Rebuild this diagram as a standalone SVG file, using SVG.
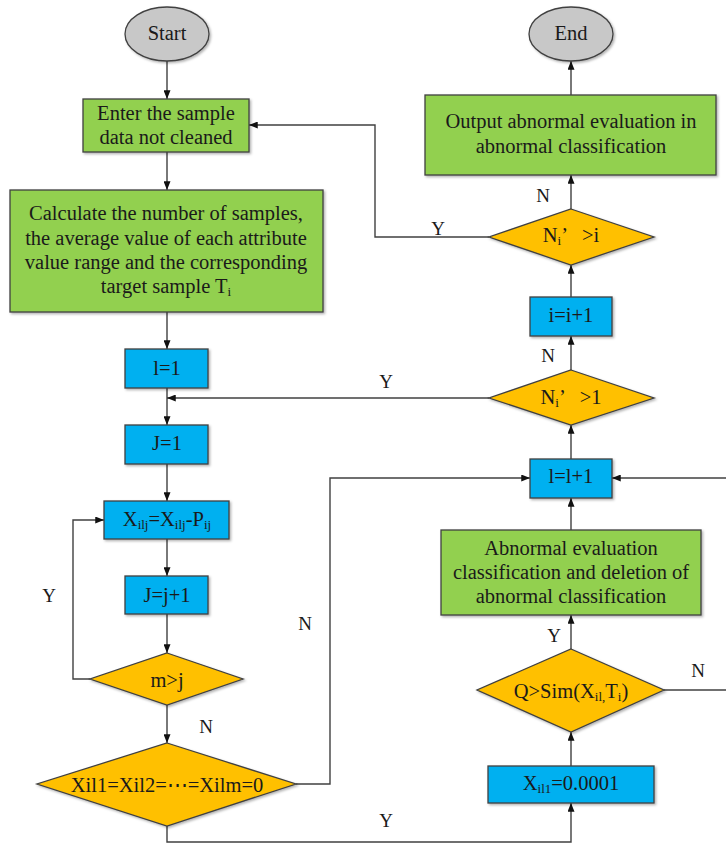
<svg xmlns="http://www.w3.org/2000/svg" width="726" height="845" viewBox="0 0 726 845">
<style>
text{font-family:"Liberation Serif","Times New Roman",serif;font-size:20.5px;fill:#1a1a1a;text-anchor:middle}
.lbl{font-size:19px}
.g{fill:#92D050;stroke:#404040;stroke-width:1.3}
.b{fill:#00B0F0;stroke:#404040;stroke-width:1.3}
.o{fill:#FFC000;stroke:#404040;stroke-width:1.3}
.e{fill:#C8C8C8;stroke:#404040;stroke-width:1.3}
.c{fill:none;stroke:#404040;stroke-width:1.4}
.a{marker-end:url(#ah)}
.s{font-size:13px}
</style>
<defs>
<marker id="ah" viewBox="0 0 10 8" refX="10" refY="4" markerWidth="9" markerHeight="7" markerUnits="userSpaceOnUse" orient="auto"><path d="M0,0 L10,4 L0,8 z" fill="#111"/></marker>
<filter id="sh" x="-10%" y="-10%" width="130%" height="130%"><feDropShadow dx="1.5" dy="1.5" stdDeviation="1" flood-color="#000" flood-opacity="0.3"/></filter>
</defs>
<g id="connectors">
<path class="c a" d="M167,61 V99"/>
<path class="c a" d="M167,152 V190"/>
<path class="c a" d="M167,312 V349"/>
<path class="c a" d="M167,388 V425"/>
<path class="c a" d="M167,464 V501"/>
<path class="c a" d="M167,539 V576"/>
<path class="c a" d="M167,614 V653"/>
<path class="c a" d="M167,705 V743"/>
<path class="c a" d="M90,679 H73 V520 H104"/>
<path class="c a" d="M296,784 H330 V478 H530"/>
<path class="c a" d="M167,826 V842 H571 V803"/>
<path class="c a" d="M571,766 V732"/>
<path class="c a" d="M571,649 V615"/>
<path class="c" d="M664,690 H726"/>
<path class="c a" d="M571,530 V498"/>
<path class="c a" d="M726,478 H612"/>
<path class="c a" d="M571,459 V425"/>
<path class="c a" d="M489,398 H167"/>
<path class="c a" d="M571,370 V336"/>
<path class="c a" d="M571,297 V265"/>
<path class="c a" d="M571,209 V175"/>
<path class="c a" d="M489,237 H375 V125 H249"/>
<path class="c a" d="M571,95 V61"/>
<text class="lbl" x="543" y="202">N</text>
<text class="lbl" x="438" y="235">Y</text>
<text class="lbl" x="548" y="362">N</text>
<text class="lbl" x="386" y="388">Y</text>
<text class="lbl" x="49" y="602">Y</text>
<text class="lbl" x="305" y="630">N</text>
<text class="lbl" x="206" y="733">N</text>
<text class="lbl" x="554" y="642">Y</text>
<text class="lbl" x="698" y="677">N</text>
<text class="lbl" x="386" y="827">Y</text>
</g>
<g id="start"><ellipse class="e" filter="url(#sh)" cx="167" cy="34" rx="42" ry="27"/><text x="167" y="40">Start</text></g>
<g id="enter"><rect class="g" filter="url(#sh)" x="83" y="99" width="166" height="53"/><text x="166" y="120">Enter the sample</text><text x="166" y="144">data not cleaned</text></g>
<g id="calc"><rect class="g" filter="url(#sh)" x="10" y="190" width="313" height="122"/>
<text x="166" y="220">Calculate the number of samples,</text>
<text x="166" y="245">the average value of each attribute</text>
<text x="166" y="269">value range and the corresponding</text>
<text x="166" y="293">target sample T<tspan class="s" dy="3">i</tspan></text></g>
<g id="l1"><rect class="b" filter="url(#sh)" x="125" y="349" width="83" height="39"/><text x="167" y="375">l=1</text></g>
<g id="j1"><rect class="b" filter="url(#sh)" x="125" y="425" width="83" height="39"/><text x="167" y="450">J=1</text></g>
<g id="xilj"><rect class="b" filter="url(#sh)" x="104" y="501" width="125" height="38"/><text x="167" y="526">X<tspan class="s" dy="3">ilj</tspan><tspan dy="-3">=X</tspan><tspan class="s" dy="3">ilj</tspan><tspan dy="-3">-P</tspan><tspan class="s" dy="3">ij</tspan></text></g>
<g id="jinc"><rect class="b" filter="url(#sh)" x="125" y="576" width="83" height="38"/><text x="167" y="602">J=j+1</text></g>
<g id="mj"><polygon class="o" filter="url(#sh)" points="167,653 243,679 167,705 90,679"/><text x="167" y="687">m&gt;j</text></g>
<g id="xzero"><polygon class="o" filter="url(#sh)" points="167,743 296,784 167,826 37,784"/><text x="167" y="792">Xil1=Xil2=⋯=Xilm=0</text></g>
<g id="end"><ellipse class="e" filter="url(#sh)" cx="571" cy="34" rx="42" ry="27"/><text x="571" y="40">End</text></g>
<g id="output"><rect class="g" filter="url(#sh)" x="425" y="95" width="291" height="80"/><text x="571" y="128">Output abnormal evaluation in</text><text x="571" y="153">abnormal classification</text></g>
<g id="ni"><polygon class="o" filter="url(#sh)" points="571,209 654,237 571,265 489,237"/><text x="571" y="242">N<tspan class="s" dy="3">i</tspan><tspan dy="-3">’</tspan><tspan dx="14">&gt;i</tspan></text></g>
<g id="iinc"><rect class="b" filter="url(#sh)" x="530" y="297" width="82" height="39"/><text x="571" y="322">i=i+1</text></g>
<g id="n1"><polygon class="o" filter="url(#sh)" points="571,370 654,398 571,425 489,398"/><text x="571" y="404">N<tspan class="s" dy="3">i</tspan><tspan dy="-3">’</tspan><tspan dx="14">&gt;1</tspan></text></g>
<g id="linc"><rect class="b" filter="url(#sh)" x="530" y="459" width="82" height="39"/><text x="571" y="483">l=l+1</text></g>
<g id="abn"><rect class="g" filter="url(#sh)" x="441" y="530" width="260" height="85"/><text x="571" y="555">Abnormal evaluation</text><text x="571" y="579">classification and deletion of</text><text x="571" y="603">abnormal classification</text></g>
<g id="q"><polygon class="o" filter="url(#sh)" points="571,649 664,690 571,732 477,690"/><text x="571" y="698">Q&gt;Sim(X<tspan class="s" dy="3">il,</tspan><tspan dy="-3">T</tspan><tspan class="s" dy="3">i</tspan><tspan dy="-3">)</tspan></text></g>
<g id="xil1"><rect class="b" filter="url(#sh)" x="488" y="766" width="166" height="37"/><text x="571" y="790">X<tspan class="s" dy="3">il1</tspan><tspan dy="-3">=0.0001</tspan></text></g>
</svg>
